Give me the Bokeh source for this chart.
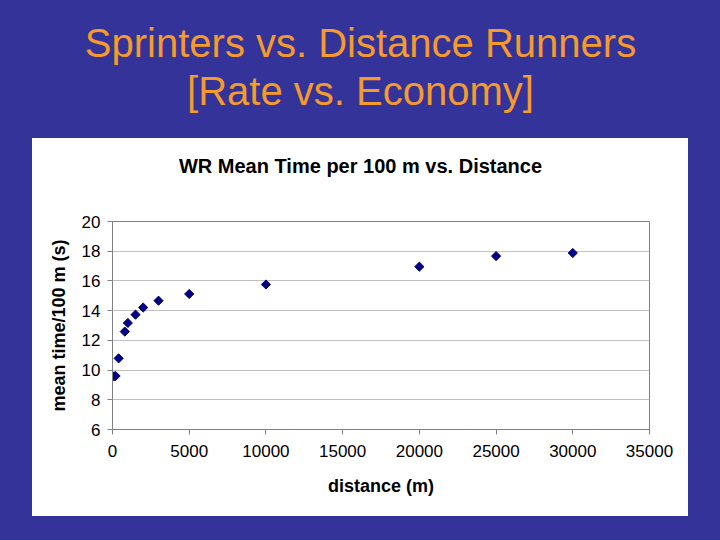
from bokeh.plotting import figure
from bokeh.layouts import column
from bokeh.models import Range1d, SingleIntervalTicker
from bokeh.core.properties import value
from bokeh.embed import file_html
from bokeh.resources import INLINE
import numpy as np

# ---- data ----
distance_m = [100, 200, 400, 800, 1000, 1500, 2000, 3000, 5000, 10000, 20000, 25000, 30000]
mean_time_per_100m = [9.58, 9.60, 10.79, 12.59, 13.17, 13.73, 14.21, 14.67, 15.12, 15.76, 16.96, 17.67, 17.88]

slide_title_lines = ["Sprinters vs. Distance Runners", "[Rate vs. Economy]"]
chart_title = ["WR Mean Time per 100 m vs. Distance"]
x_label = "distance (m)"
y_label = "mean time/100 m (s)"

BLUE = "#333399"
ORANGE = "#F59A2C"
FONT = "Liberation Sans"

BORDER_L, BORDER_R = 80, 39
PAD = 32
HEAD_H = 71


def bare(fig, bg, border):
    fig.grid.visible = False
    fig.outline_line_color = None
    fig.background_fill_color = bg
    fig.border_fill_color = border


# ---- slide title (frame borders are aligned with the chart by the column layout) ----
tfig = figure(width=720, height=138,
              x_range=Range1d(BORDER_L, 720 - BORDER_R), y_range=Range1d(138, 0),
              toolbar_location=None, output_backend="svg",
              x_axis_location=None, y_axis_location=None,
              min_border_left=BORDER_L, min_border_right=BORDER_R,
              min_border_top=0, min_border_bottom=0,
              styles={"background-color": BLUE})
bare(tfig, BLUE, BLUE)
tfig.text(x=[360, 360], y=[42, 90.5], text=slide_title_lines,
          text_align="center", text_baseline="alphabetic",
          text_font=value(FONT), text_font_size="40px", text_color=ORANGE)

# ---- chart heading (white strip on top of the chart panel) ----
hfig = figure(width=720 - 2 * PAD, height=HEAD_H,
              x_range=Range1d(PAD + BORDER_L, 720 - PAD - BORDER_R),
              y_range=Range1d(138 + HEAD_H, 138),
              toolbar_location=None, output_backend="svg",
              x_axis_location=None, y_axis_location=None,
              min_border_left=BORDER_L, min_border_right=BORDER_R,
              min_border_top=0, min_border_bottom=0,
              margin=(0, PAD, 0, PAD),
              styles={"background-color": "white"})
bare(hfig, "white", "white")
hfig.text(x=[360], y=[165.5], text=chart_title,
          text_align="center", text_baseline="alphabetic",
          text_font=value(FONT), text_font_size="20px", text_font_style="bold",
          text_color="black")

# ---- chart ----
p = figure(width=720 - 2 * PAD, height=378 - HEAD_H,
           x_range=Range1d(0, 35000), y_range=Range1d(6, 20),
           toolbar_location=None, output_backend="svg",
           min_border_left=BORDER_L, min_border_right=BORDER_R,
           min_border_top=83 - HEAD_H, min_border_bottom=87,
           margin=(0, PAD, 24, PAD),
           styles={"background-color": "white"})
p.background_fill_color = "white"
p.border_fill_color = "white"
p.outline_line_color = "#808080"
p.outline_line_width = 1

p.xaxis.ticker = SingleIntervalTicker(interval=5000)
p.yaxis.ticker = SingleIntervalTicker(interval=2)
for ax in (p.xaxis, p.yaxis):
    ax.axis_line_color = "#808080"
    ax.major_tick_line_color = "#808080"
    ax.major_tick_out = 5
    ax.major_tick_in = 0
    ax.minor_tick_line_color = None
    ax.major_label_text_font = FONT
    ax.major_label_text_font_size = "17px"
    ax.major_label_text_color = "black"
    ax.axis_label_text_font = FONT
    ax.axis_label_text_font_size = "18px"
    ax.axis_label_text_font_style = "bold"
    ax.axis_label_text_color = "black"
p.xaxis.axis_label = x_label
p.yaxis.axis_label = y_label
p.xaxis.major_label_standoff = 10
p.yaxis.major_label_standoff = 7
p.xaxis.axis_label_standoff = 16
p.yaxis.axis_label_standoff = 10

p.xgrid.grid_line_color = None
p.ygrid.grid_line_color = "#C0C0C0"
p.ygrid.grid_line_width = 1

p.scatter(distance_m, mean_time_per_100m, marker="square", angle=np.pi / 4, size=6.5,
          fill_color="#000080", line_color="#000080")

layout = column(tfig, hfig, p, spacing=0, styles={"background-color": BLUE})

open("out.html", "w").write(file_html(layout, INLINE))
